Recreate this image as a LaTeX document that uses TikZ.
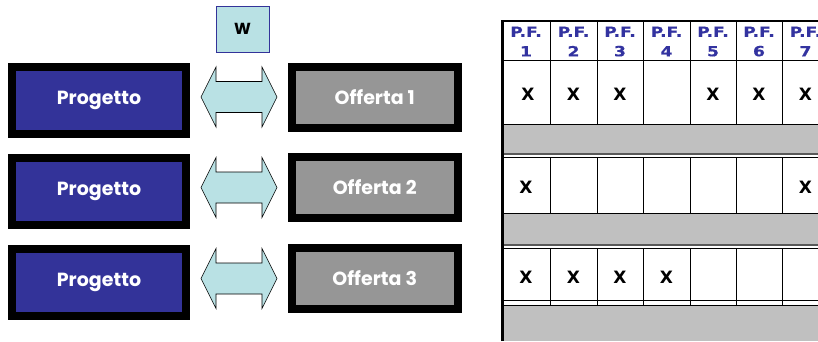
\documentclass[tikz,border=0pt]{standalone}
\usepackage{fontspec}
\setmainfont{Liberation Sans}[BoldFont={Liberation Sans Bold}]
\newfontfamily\gothic{Poppins}[BoldFont={Poppins Bold}]
\newfontfamily\heavy{DejaVu Sans}[BoldFont={DejaVu Sans Bold}]
\newfontfamily\hdrfont{DejaVu Sans}[UprightFont={DejaVu Sans Bold}, FakeStretch=1.22, FakeBold=0.6]
\definecolor{progblue}{HTML}{333399}
\definecolor{offgray}{HTML}{969696}
\definecolor{arrowcyan}{HTML}{B9E1E4}
\definecolor{hdrblue}{HTML}{3333A0}
\definecolor{bandgray}{HTML}{C0C0C0}
\begin{document}
\begin{tikzpicture}[x=1pt,y=-1pt,
  prog/.style={draw=black, line width=8pt, fill=progblue, text=white,
    font=\gothic\bfseries\fontsize{19}{22}\selectfont,
    minimum width=174pt, minimum height=67pt, inner sep=0pt},
  off/.style={prog, fill=offgray, minimum width=166.5pt, minimum height=61pt},
  blockarrow/.style={draw=black, line width=0.6pt, fill=arrowcyan},
  wbox/.style={draw=progblue, line width=0.8pt, fill=arrowcyan,
    font=\gothic\bfseries\fontsize{16}{16}\selectfont,
    minimum width=53pt, minimum height=46pt, inner sep=0pt},
  hdr/.style={text=hdrblue, font=\hdrfont\fontsize{14}{19.5}\selectfont,
    align=center, inner sep=0pt},
  xm/.style={font=\heavy\bfseries\fontsize{17}{17}\selectfont, inner sep=0pt},
  grid/.style={draw=black, line width=1pt},
  thick border/.style={draw=black, line width=2.2pt},
  band/.style={fill=bandgray, draw=none}]
\useasboundingbox (0,0) rectangle (818,341);
\fill[white] (0,0) rectangle (818,341);
\begin{scope}
\clip (0,0) rectangle (818,341);
% left boxes
\node[prog] (p1) at (99,100.5) {Progetto};
\node[prog] (p2) at (99,191) {Progetto};
\node[prog] (p3) at (99,282) {Progetto};
\node[off] (o1) at (374.75,97) {Offerta 1};
\node[off] (o2) at (374.75,187.5) {Offerta 2};
\node[off] (o3) at (374.75,278.5) {Offerta 3};
\node[wbox] (w) at (242.5,29) {W};
% block arrows
\coordinate (a1) at (239,97);
\coordinate (a2) at (239,187.5);
\coordinate (a3) at (239,278.5);
\foreach \a in {a1,a2,a3}{
  \draw[blockarrow, shift={(\a)}] (-38,0) -- (-23,-30) -- (-23,-15.5) -- (23,-15.5)
    -- (23,-30) -- (38,0) -- (23,30) -- (23,15.5) -- (-23,15.5) -- (-23,30) -- cycle;
}
% table bands
\fill[band] (502.5,124) rectangle (830,154);
\fill[band] (502.5,213) rectangle (830,245);
\fill[band] (502.5,305) rectangle (830,341);
\draw[draw=black!65, line width=1.2pt] (502.5,154) -- (830,154);
\draw[draw=black!65, line width=1.2pt] (502.5,245) -- (830,245);
% horizontal grid lines
\draw[grid] (502.5,60) -- (830,60);
\draw[grid] (502.5,124) -- (830,124);
\draw[grid] (502.5,157) -- (830,157);
\draw[grid] (502.5,213) -- (830,213);
\draw[grid] (502.5,248) -- (830,248);
\draw[grid] (502.5,300) -- (830,300);
\draw[grid] (502.5,305) -- (830,305);
% vertical grid lines
\foreach \x in {550,597,643,690,736,782,829}{
  \draw[grid] (\x,21) -- (\x,124);
  \draw[grid] (\x,157) -- (\x,213);
  \draw[grid] (\x,248) -- (\x,305);
}
% outer border
\draw[thick border] (502.5,341) -- (502.5,21) -- (830,21);
% headers
\foreach \i/\cx in {1/526,2/573.5,3/620,4/666.5,5/713,6/759,7/805.5}{
  \node[hdr] (h\i) at (\cx,41.5) {P.F.\\\i};
}
% X marks
\foreach \i/\cx in {1/528,2/573.5,3/620,5/713,6/759,7/805.5}{
  \node[xm] (xa\i) at (\cx,94) {X};
}
\foreach \i/\cx in {1/526,7/805.5}{
  \node[xm] (xb\i) at (\cx,187) {X};
}
\foreach \i/\cx in {1/526,2/573.5,3/620,4/666.5}{
  \node[xm] (xc\i) at (\cx,277) {X};
}
\end{scope}
\end{tikzpicture}
\end{document}
